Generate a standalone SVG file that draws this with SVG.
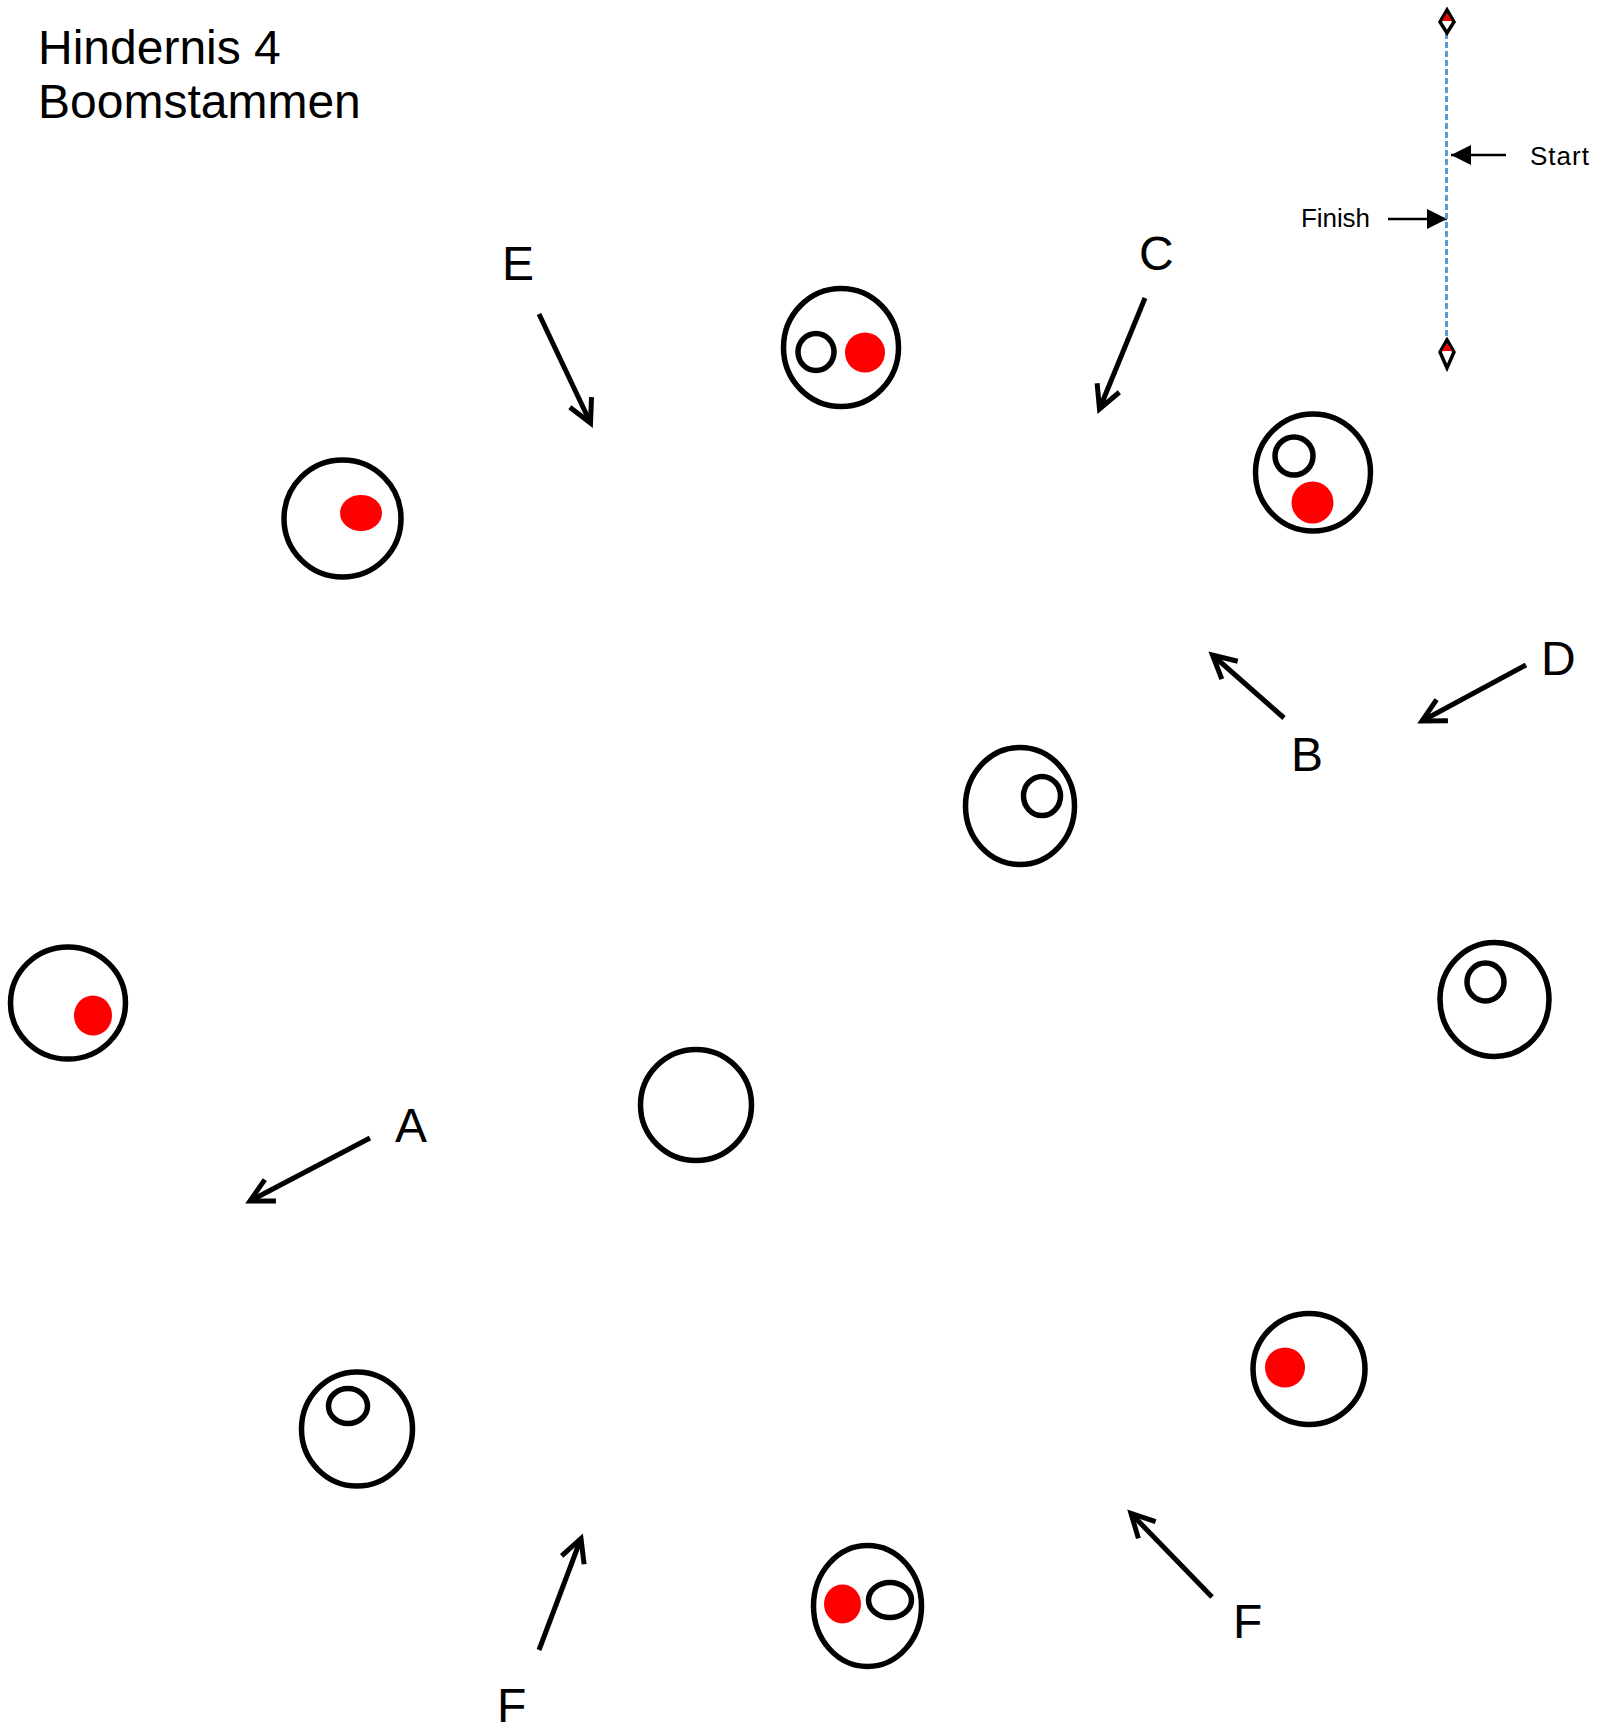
<svg xmlns="http://www.w3.org/2000/svg" width="1598" height="1730" viewBox="0 0 1598 1730">
<style>
text{font-family:"Liberation Sans",Arial,sans-serif;fill:#000}
.t{font-size:48px}
.s{font-size:26px}
.o{fill:none;stroke:#000;stroke-width:5.500}
.i{fill:none;stroke:#000;stroke-width:5.500}
.r{fill:#f00}
.a{fill:none;stroke:#000;stroke-width:5;marker-end:url(#open)}
.k{stroke:#000;stroke-width:2.500;fill:none;marker-end:url(#solid)}
.d{stroke:#000;stroke-width:3.500;fill:#fff}
.u{fill:#e00}
</style>
<defs>
<marker id="open" markerUnits="userSpaceOnUse" markerWidth="40" markerHeight="40" refX="28" refY="15" orient="auto" overflow="visible">
<path d="M5 3 L28 15 L5 27" fill="none" stroke="#000" stroke-width="5"/>
</marker>
<marker id="solid" markerUnits="userSpaceOnUse" markerWidth="24" markerHeight="24" refX="20" refY="10" orient="auto">
<path d="M0 0 L20 10 L0 20Z" fill="#000"/>
</marker>
</defs>
<rect width="1598" height="1730" fill="#fff"/>
<g id="title"><text class="t" x="38" y="64">Hindernis 4</text><text class="t" x="38" y="118">Boomstammen</text></g>
<g id="connectors">
<path class="a" d="M539 314L590.500 423"/>
<path class="a" d="M1145 298L1099.500 409"/>
<path class="a" d="M1284 718L1212.500 655"/>
<path class="a" d="M1526 665L1422 721"/>
<path class="a" d="M370 1138L250 1201"/>
<path class="a" d="M539 1650L581 1538.500"/>
<path class="a" d="M1212 1597L1131 1513.500"/>
<path class="k" d="M1506 155L1451 155"/>
<path class="k" d="M1388 219L1447 219"/>
</g>
<g id="gate">
<path d="M1446.500 33V342" stroke="#5b9bd5" stroke-width="3" stroke-dasharray="6 3" fill="none"/>
<path class="d" d="M1447 10L1454 22L1447 33L1440 22Z"/><path class="u" d="M1447 13L1452 21H1442Z"/>
<path class="d" d="M1447 340L1454 352L1447 368L1440 352Z"/><path class="u" d="M1447 343L1452 351H1442Z"/>
<text class="s" x="1301" y="227" textLength="69">Finish</text><text class="s" x="1530" y="165" textLength="59">Start</text>
</g>
<g id="n1"><ellipse class="o" cx="841" cy="347.500" rx="57.500" ry="59"/><ellipse class="i" cx="816" cy="352" rx="18" ry="18.500"/><ellipse class="r" cx="865" cy="352.500" rx="20" ry="20"/></g>
<g id="n2"><ellipse class="o" cx="342.500" cy="518.500" rx="58.500" ry="58.500"/><ellipse class="r" cx="361" cy="513" rx="21" ry="18"/></g>
<g id="n3"><ellipse class="o" cx="1313" cy="472.500" rx="57.500" ry="58.500"/><ellipse class="i" cx="1294" cy="456" rx="19" ry="19"/><ellipse class="r" cx="1312.500" cy="502.500" rx="21" ry="21"/></g>
<g id="n4"><ellipse class="o" cx="1020" cy="806" rx="54.500" ry="58.500"/><ellipse class="i" cx="1042" cy="796" rx="18.500" ry="19.500"/></g>
<g id="n5"><ellipse class="o" cx="1494.500" cy="999.500" rx="54.500" ry="57"/><ellipse class="i" cx="1485.500" cy="982" rx="18.500" ry="19"/></g>
<g id="n6"><ellipse class="o" cx="68" cy="1003" rx="57.500" ry="56"/><ellipse class="r" cx="93" cy="1015.500" rx="19" ry="20"/></g>
<g id="n7"><ellipse class="o" cx="696" cy="1105" rx="55.500" ry="55.500"/></g>
<g id="n8"><ellipse class="o" cx="357" cy="1429" rx="55.500" ry="57"/><ellipse class="i" cx="348" cy="1406" rx="19.500" ry="17.500"/></g>
<g id="n9"><ellipse class="o" cx="1309" cy="1369" rx="56" ry="55.500"/><ellipse class="r" cx="1285" cy="1367.500" rx="20" ry="20"/></g>
<g id="n10"><ellipse class="o" cx="867.500" cy="1606" rx="54" ry="60.500"/><ellipse class="r" cx="842.500" cy="1604" rx="18.500" ry="19.500"/><ellipse class="i" cx="890" cy="1600" rx="21.500" ry="17.500"/></g>
<g id="labels">
<text class="t" x="502" y="279.500">E</text><text class="t" x="1139" y="269.500">C</text><text class="t" x="1541" y="675">D</text><text class="t" x="1291" y="771">B</text><text class="t" x="395" y="1142">A</text><text class="t" x="1233" y="1637.500">F</text><text class="t" x="497" y="1722">F</text>
</g>
</svg>
